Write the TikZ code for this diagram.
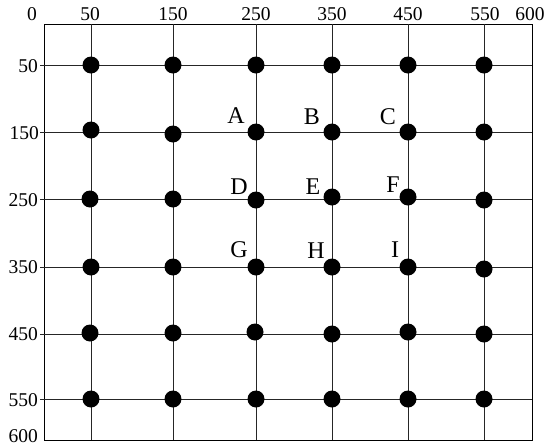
\documentclass[tikz,border=0pt]{standalone}
\usepackage{fontspec}
\setmainfont{Liberation Serif}
\tikzset{
  ticklab/.style={inner sep=0pt, font=\fontsize{19.5}{20}\selectfont},
  ptlab/.style={inner sep=0pt, font=\fontsize{24}{25}\selectfont},
  gridline/.style={line width=0.9pt, black!85}
}
\begin{document}
\begin{tikzpicture}[x=1pt, y=-1pt]
      \useasboundingbox (0,0) rectangle (550,445);

      % frame
      \draw[line width=0.9pt] (44,24) rectangle (532,440);

      % grid lines
      \draw[gridline] (91,24)--(91,440);
      \draw[gridline] (173,24)--(173,440);
      \draw[gridline] (256,24)--(256,440);
      \draw[gridline] (332,24)--(332,440);
      \draw[gridline] (408,24)--(408,440);
      \draw[gridline] (484,24)--(484,440);
      \draw[gridline] (40,65)--(532,65);
      \draw[gridline] (40,132)--(532,132);
      \draw[gridline] (40,199)--(532,199);
      \draw[gridline] (40,267)--(532,267);
      \draw[gridline] (40,334)--(532,334);
      \draw[gridline] (40,399)--(532,399);

      % axis labels
      \node[ticklab] (top0) at (32,14) {0};
      \node[ticklab] (top50) at (90,14) {50};
      \node[ticklab] (top150) at (173,14) {150};
      \node[ticklab] (top250) at (256,14) {250};
      \node[ticklab] (top350) at (332,14) {350};
      \node[ticklab] (top450) at (408,14) {450};
      \node[ticklab] (top550) at (485,14) {550};
      \node[ticklab] (top600) at (530,14) {600};

      \node[ticklab, anchor=east] (left50) at (38,66) {50};
      \node[ticklab, anchor=east] (left150) at (39,133) {150};
      \node[ticklab, anchor=east] (left250) at (38,200) {250};
      \node[ticklab, anchor=east] (left350) at (38,267) {350};
      \node[ticklab, anchor=east] (left450) at (38,334) {450};
      \node[ticklab, anchor=east] (left550) at (38,400) {550};
      \node[ticklab, anchor=east] (left600) at (38,436) {600};

      % points
      \fill (91,65) circle[radius = 8.5];
      \fill (173,65) circle[radius = 8.5];
      \fill (256,65) circle[radius = 8.5];
      \fill (332,65) circle[radius = 8.5];
      \fill (408,65) circle[radius = 8.5];
      \fill (484,65) circle[radius = 8.5];

      \fill (91,130) circle[radius = 8.5];
      \fill (173,134) circle[radius = 8.5];
      \fill (256,132) circle[radius = 8.5];
      \fill (332,132) circle[radius = 8.5];
      \fill (408,132) circle[radius = 8.5];
      \fill (484,132) circle[radius = 8.5];

      \fill (90,199) circle[radius = 8.5];
      \fill (173,199) circle[radius = 8.5];
      \fill (256,200) circle[radius = 8.5];
      \fill (332,197) circle[radius = 8.5];
      \fill (408,197) circle[radius = 8.5];
      \fill (484,200) circle[radius = 8.5];

      \fill (91,267) circle[radius = 8.5];
      \fill (173,267) circle[radius = 8.5];
      \fill (256,267) circle[radius = 8.5];
      \fill (332,267) circle[radius = 8.5];
      \fill (408,267) circle[radius = 8.5];
      \fill (484,269) circle[radius = 8.5];

      \fill (90,333) circle[radius = 8.5];
      \fill (173,333) circle[radius = 8.5];
      \fill (255,332) circle[radius = 8.5];
      \fill (332,334) circle[radius = 8.5];
      \fill (408,332) circle[radius = 8.5];
      \fill (484,334) circle[radius = 8.5];

      \fill (91,399) circle[radius = 8.5];
      \fill (173,399) circle[radius = 8.5];
      \fill (256,399) circle[radius = 8.5];
      \fill (332,399) circle[radius = 8.5];
      \fill (408,399) circle[radius = 8.5];
      \fill (484,399) circle[radius = 8.5];

      % point names
      \node[ptlab] (ptA) at (236,116) {A};
      \node[ptlab] (ptB) at (312,117) {B};
      \node[ptlab] (ptC) at (388,117) {C};
      \node[ptlab] (ptD) at (239,187) {D};
      \node[ptlab] (ptE) at (313,187) {E};
      \node[ptlab] (ptF) at (393,185) {F};
      \node[ptlab] (ptG) at (239,250) {G};
      \node[ptlab] (ptH) at (316,251) {H};
      \node[ptlab] (ptI) at (395,250) {I};
    \end{tikzpicture}
\end{document}
